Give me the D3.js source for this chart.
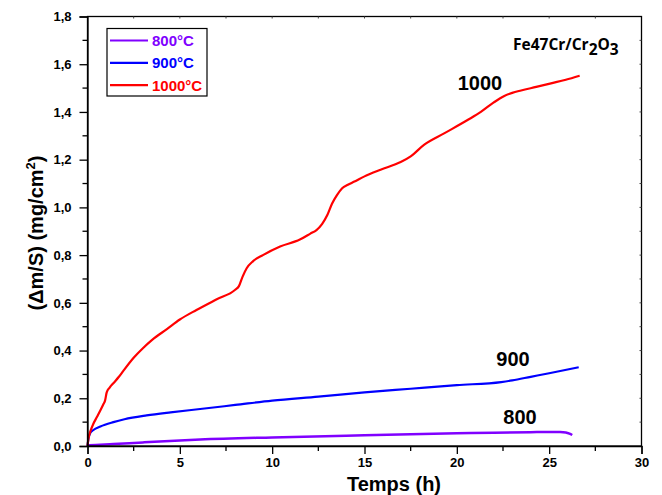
<!DOCTYPE html>
<html><head><meta charset="utf-8">
<script src="https://cdn.jsdelivr.net/npm/d3@7"></script>
<style>body{margin:0;background:#fff}svg{display:block;font-family:Arial,"Liberation Sans",sans-serif}</style>
</head><body><svg id="c" width="662" height="495"></svg>
<script>
const t1000 = [0,0.05,0.15,0.3,0.5,0.7,0.86,0.95,1.04,1.2,1.4,1.7,1.94,2.5,3.0,3.5,4.3,5.0,5.9,7.0,8.0,8.2,8.4,8.62,8.97,9.5,10.43,11.5,12.07,12.4,12.7,13.0,13.24,13.5,13.79,14.1,14.42,15.0,15.87,16.96,17.5,18.22,19.31,20.58,21.3,22.0,22.57,23.0,23.48,24.3,25.1,25.9,26.65];
const v1000 = [0,0.03,0.06,0.09,0.12,0.15,0.175,0.19,0.225,0.245,0.263,0.29,0.315,0.37,0.41,0.445,0.49,0.53,0.57,0.615,0.655,0.67,0.71,0.745,0.775,0.80,0.836,0.865,0.89,0.905,0.93,0.97,1.015,1.05,1.08,1.095,1.107,1.13,1.158,1.19,1.214,1.262,1.31,1.366,1.40,1.44,1.467,1.48,1.49,1.505,1.52,1.535,1.552];
const t900 = [0,0.05,0.14,0.32,0.7,1.4,2.0,3.2,4.5,6.1,8,10,12.5,15,17.5,20,22.4,23.0,24,25,26.6];
const v900 = [0,0.03,0.053,0.067,0.082,0.1,0.112,0.128,0.141,0.155,0.172,0.19,0.207,0.225,0.24,0.255,0.268,0.275,0.29,0.305,0.33];
const t800 = [0,0.1,1.4,3,6.1,10,15,20,22,24,25.6,25.9,26.1,26.25];
const v800 = [0,0.003,0.008,0.015,0.027,0.036,0.045,0.053,0.056,0.058,0.059,0.057,0.052,0.046];
const seriesNames = ["800°C","900°C","1000°C"];
const seriesLabels = ["800","900","1000"];
const colors = ["#8000ff","#0000ff","#ff0000"];
const xTicks = [0,5,10,15,20,25,30];
const yTicks = [0,0.2,0.4,0.6,0.8,1.0,1.2,1.4,1.6,1.8];

const svg = d3.select("#c");
const L=87.5,R=641.5,T=16.5,B=446;
const x = d3.scaleLinear().domain([0,30]).range([L,R]);
const y = d3.scaleLinear().domain([0,1.8]).range([B,T]);
const fmt = d => d3.format(".1f")(d).replace(".",",");

const series = [
  {t:t800,v:v800},{t:t900,v:v900},{t:t1000,v:v1000}
];
const line = d3.line().x(d=>x(d[0])).y(d=>y(d[1])).curve(d3.curveMonotoneX);
series.forEach((s,i)=>{
  svg.append("path").datum(s.t.map((t,j)=>[t,s.v[j]]))
    .attr("d",line).attr("fill","none").attr("stroke",colors[i])
    .attr("stroke-width", i===0?2.5:2.2).attr("stroke-linejoin","round");
});

// frame
svg.append("rect").attr("x",L).attr("y",T).attr("width",R-L).attr("height",B-T)
  .attr("fill","none").attr("stroke","#000").attr("stroke-width",1.3);

const xa = svg.append("g").attr("transform",`translate(0,${B})`)
  .call(d3.axisBottom(x).tickValues(xTicks).tickSize(8).tickPadding(4).tickFormat(d3.format("d")));
const ya = svg.append("g").attr("transform",`translate(${L},0)`)
  .call(d3.axisLeft(y).tickValues(yTicks).tickSize(8).tickPadding(8).tickFormat(fmt));
[xa,ya].forEach(a=>{
  a.select(".domain").attr("stroke-width",1.3);
  a.selectAll(".tick line").attr("stroke-width",1.3);
  a.selectAll("text").attr("font-size",13).attr("font-weight","bold").attr("fill","#000").attr("font-family","Arial, 'Liberation Sans', sans-serif");
});
// minor ticks
const xMinor = d3.range(2.5,30,5);
const yMinor = d3.range(0.1,1.8,0.2);
svg.append("g").selectAll("line").data(xMinor).join("line")
  .attr("x1",d=>x(d)).attr("x2",d=>x(d)).attr("y1",B).attr("y2",B+5).attr("stroke","#000").attr("stroke-width",1.3);
svg.append("g").selectAll("line").data(yMinor).join("line")
  .attr("y1",d=>y(d)).attr("y2",d=>y(d)).attr("x1",L).attr("x2",L-5).attr("stroke","#000").attr("stroke-width",1.3);
// tiny ticks on top/right
svg.append("g").selectAll("line").data(d3.range(2.5,30,2.5)).join("line")
  .attr("x1",d=>x(d)).attr("x2",d=>x(d)).attr("y1",T).attr("y2",T+2).attr("stroke","#444").attr("stroke-width",1);
svg.append("g").selectAll("line").data(d3.range(0.1,1.8,0.1)).join("line")
  .attr("y1",d=>y(d)).attr("y2",d=>y(d)).attr("x1",R).attr("x2",R-2).attr("stroke","#444").attr("stroke-width",1);

// axis titles
svg.append("text").attr("x",394).attr("y",491).attr("text-anchor","middle")
  .attr("font-size",20).attr("font-weight","bold").text("Temps (h)");
const yt = svg.append("text").attr("transform",`translate(42.5,233) rotate(-90)`)
  .attr("text-anchor","middle").attr("font-size",20).attr("font-weight","bold");
yt.append("tspan").text("(Δm/S) (mg/cm");
yt.append("tspan").attr("dy",-8).attr("font-size",13).text("2");
yt.append("tspan").attr("dy",8).text(")");

// legend
const lg = svg.append("g");
lg.append("rect").attr("x",107).attr("y",28.5).attr("width",100).attr("height",67.5)
  .attr("fill","#fff").attr("stroke","#000").attr("stroke-width",1.2);
seriesNames.forEach((n,i)=>{
  const yy = 40.5 + i*22.3;
  lg.append("line").attr("x1",110).attr("x2",148).attr("y1",yy).attr("y2",yy)
    .attr("stroke",colors[i]).attr("stroke-width",2.2);
  lg.append("text").attr("x",152).attr("y",yy+5.5).attr("fill",colors[i])
    .attr("font-size",15).attr("font-weight","bold").text(n);
});

// compound label
const ft = svg.append("text").attr("x",513).attr("y",50).attr("font-size",15.5).attr("font-weight","bold")
  .attr("font-family","'Open Sans', sans-serif");
ft.append("tspan").text("Fe47Cr/Cr");
ft.append("tspan").attr("dy",5).text("2");
ft.append("tspan").attr("dy",-5).text("O");
ft.append("tspan").attr("dy",5).text("3");

// series labels
const labPos = [[520,424],[513,366],[480,90]];
seriesLabels.forEach((s,i)=>{
  svg.append("text").attr("x",labPos[i][0]).attr("y",labPos[i][1]).attr("text-anchor","middle")
    .attr("font-size",20).attr("font-weight","bold").text(s);
});
</script></body></html>
